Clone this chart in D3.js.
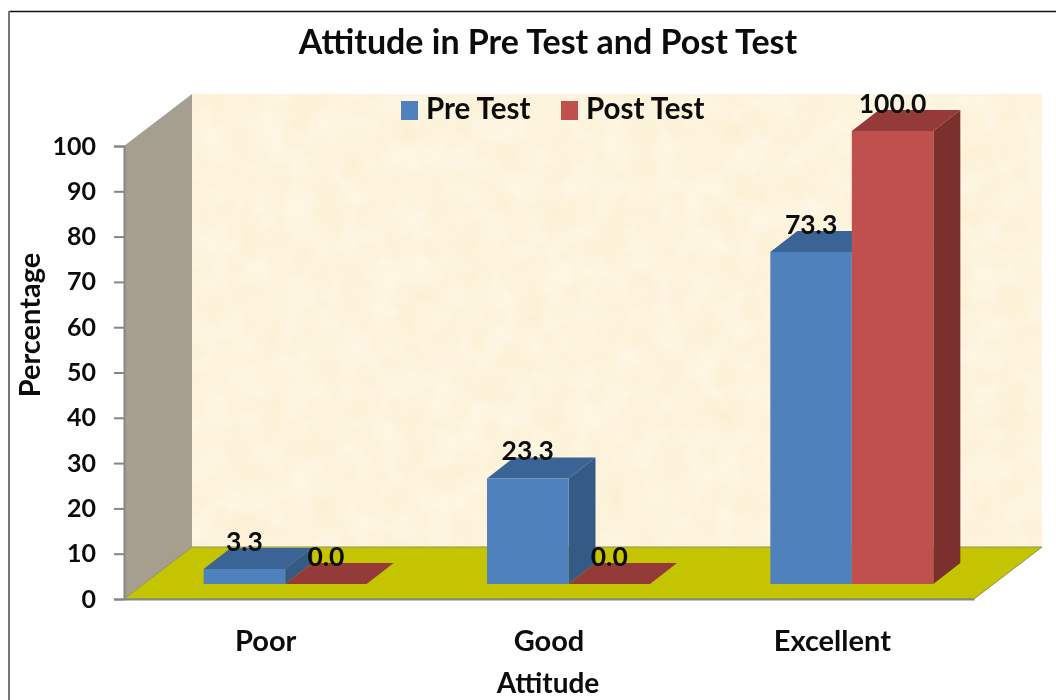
<!DOCTYPE html>
<html>
<head>
<meta charset="utf-8">
<script src="https://cdn.jsdelivr.net/npm/d3@7"></script>
<style>
    html, body { margin: 0; padding: 0; background: #fff; }
    svg { display: block; filter: blur(0.4px); }
    text { font-family: Lato, "Open Sans", sans-serif; font-weight: 700; fill: #0c0c0c; }
</style>
</head>
<body>
<svg id="chart"></svg>
<script>
const categories = ['Poor', 'Good', 'Excellent'];
const seriesNames = ['Pre Test', 'Post Test'];
const preTest = [3.3, 23.3, 73.3];
const postTest = [0.0, 0.0, 100.0];
const yTicks = [0, 10, 20, 30, 40, 50, 60, 70, 80, 90, 100];

const width = 1056, height = 700;
const plot = { left: 124, right: 974, top: 146, bottom: 599 };
// 3D offsets: whole box depth, and where the bars sit inside that depth
const depth = { dx: 68, dy: -52 };
const barFront = { dx: 19.5, dy: -15 };
const barDepth = { dx: 27, dy: -21 };

const colors = {
    'Pre Test': { front: '#4f81bd', top: '#3a6496', side: '#345a86' },
    'Post Test': { front: '#c0504d', top: '#943a38', side: '#7b302e' }
};

const svg = d3.select('#chart').attr('width', width).attr('height', height);

// mottled paper texture for the back wall
const defs = svg.append('defs');
const paper = defs.append('filter').attr('id', 'paper')
    .attr('x', 0).attr('y', 0).attr('width', 1).attr('height', 1);
paper.append('feTurbulence').attr('type', 'fractalNoise').attr('baseFrequency', 0.035)
    .attr('numOctaves', 3).attr('seed', 4).attr('result', 'noise');
paper.append('feColorMatrix').attr('in', 'noise').attr('type', 'matrix')
    .attr('values', '0 0 0 0 0.97  0 0 0 0 0.84  0 0 0 0 0.60  1.1 0 0 0 -0.28').attr('result', 'tint');
paper.append('feComposite').attr('in', 'tint').attr('in2', 'SourceGraphic').attr('operator', 'atop');

const xScale = d3.scaleBand().domain(categories).range([plot.left, plot.right]);
const yScale = d3.scaleLinear().domain([0, 100]).range([plot.bottom, plot.top]);
const groupWidth = 163;
const seriesScale = d3.scaleBand().domain(seriesNames).range([0, groupWidth]);

const poly = pts => pts.map(p => p.join(',')).join(' ');

// frame: dark top line, grey left line, nothing on the right
svg.append('line')
    .attr('x1', 9).attr('x2', width).attr('y1', 11.5).attr('y2', 11.5)
    .attr('stroke', '#111').attr('stroke-width', 1.5);
svg.append('line')
    .attr('x1', 9).attr('x2', 9).attr('y1', 11).attr('y2', height)
    .attr('stroke', '#777').attr('stroke-width', 2);

// back wall
svg.append('rect')
    .attr('x', plot.left + depth.dx).attr('y', plot.top + depth.dy)
    .attr('width', plot.right - plot.left).attr('height', plot.bottom - plot.top)
    .attr('fill', '#fef6e3').attr('filter', 'url(#paper)');

// side wall
svg.append('polygon')
    .attr('points', poly([
        [plot.left, plot.top],
        [plot.left + depth.dx, plot.top + depth.dy],
        [plot.left + depth.dx, plot.bottom + depth.dy],
        [plot.left, plot.bottom]
    ]))
    .attr('fill', '#a69e8f');

// floor
svg.append('polygon')
    .attr('points', poly([
        [plot.left, plot.bottom],
        [plot.left + depth.dx, plot.bottom + depth.dy],
        [plot.right + depth.dx, plot.bottom + depth.dy],
        [plot.right, plot.bottom]
    ]))
    .attr('fill', '#c4c400').attr('stroke', '#8f8f5a').attr('stroke-width', 1);

// y axis
const yAxis = d3.axisLeft(yScale).tickValues(yTicks).tickSize(10).tickPadding(18);
const yAxisG = svg.append('g').attr('transform', `translate(${plot.left},0)`).call(yAxis);
yAxisG.selectAll('.domain, line').attr('stroke', '#868686').attr('stroke-width', 2);
yAxisG.selectAll('text').style('font-size', '25px').attr('fill', '#0c0c0c').attr('font-family', null);

// x axis labels
const xAxis = d3.axisBottom(xScale).tickSize(0).tickPadding(31);
const xAxisG = svg.append('g').attr('transform', `translate(0,${plot.bottom})`).call(xAxis);
xAxisG.select('.domain').attr('stroke', '#868686').attr('stroke-width', 2);
xAxisG.selectAll('text').style('font-size', '29px').attr('fill', '#0c0c0c').attr('font-family', null);

// bars: each drawn from value -> scale, with top and side faces
const barData = [];
categories.forEach((c, i) => {
    barData.push({ cat: c, series: 'Pre Test', value: preTest[i] });
    barData.push({ cat: c, series: 'Post Test', value: postTest[i] });
});
const barBase = plot.bottom + barFront.dy;
const barX = d => xScale(d.cat) + (xScale.bandwidth() - groupWidth) / 2 + seriesScale(d.series) + barFront.dx;
const barY = d => yScale(d.value) + barFront.dy;

const bars = svg.append('g').selectAll('g')
    .data(barData)
    .join('g');

bars.append('polygon')
    .attr('points', d => {
        const x = barX(d) + seriesScale.bandwidth(), y = barY(d);
        return poly([[x, y], [x + barDepth.dx, y + barDepth.dy],
            [x + barDepth.dx, barBase + barDepth.dy], [x, barBase]]);
    })
    .attr('fill', d => colors[d.series].side);

bars.append('polygon')
    .attr('points', d => {
        const x = barX(d), w = seriesScale.bandwidth(), y = barY(d);
        return poly([[x, y], [x + barDepth.dx, y + barDepth.dy],
            [x + w + barDepth.dx, y + barDepth.dy], [x + w, y]]);
    })
    .attr('fill', d => colors[d.series].top);

bars.append('rect')
    .attr('x', barX)
    .attr('y', barY)
    .attr('width', seriesScale.bandwidth())
    .attr('height', d => barBase - barY(d))
    .attr('fill', d => colors[d.series].front);

// value labels
svg.append('g').selectAll('text')
    .data(barData)
    .join('text')
    .attr('x', d => barX(d) + seriesScale.bandwidth() / 2)
    .attr('y', d => barY(d) + barDepth.dy + 3)
    .attr('text-anchor', 'middle')
    .style('font-size', '26.5px')
    .text(d => d.value.toFixed(1));

// title
svg.append('text')
    .attr('x', 548).attr('y', 54)
    .attr('text-anchor', 'middle')
    .style('font-size', '34px')
    .text('Attitude in Pre Test and Post Test');

// legend
const legendX = [401, 561];
const legend = svg.append('g').selectAll('g')
    .data(seriesNames)
    .join('g')
    .attr('transform', (d, i) => `translate(${legendX[i]},101)`);
legend.append('rect')
    .attr('width', 17).attr('height', 19)
    .attr('fill', d => colors[d].front);
legend.append('text')
    .attr('x', 25).attr('y', 18)
    .style('font-size', '29.5px')
    .text(d => d);

// axis titles
svg.append('text')
    .attr('x', 548).attr('y', 693)
    .attr('text-anchor', 'middle')
    .style('font-size', '28px')
    .text('Attitude');

svg.append('text')
    .attr('transform', 'translate(40,325) rotate(-90)')
    .attr('text-anchor', 'middle')
    .style('font-size', '29px')
    .text('Percentage');
</script>
</body>
</html>
